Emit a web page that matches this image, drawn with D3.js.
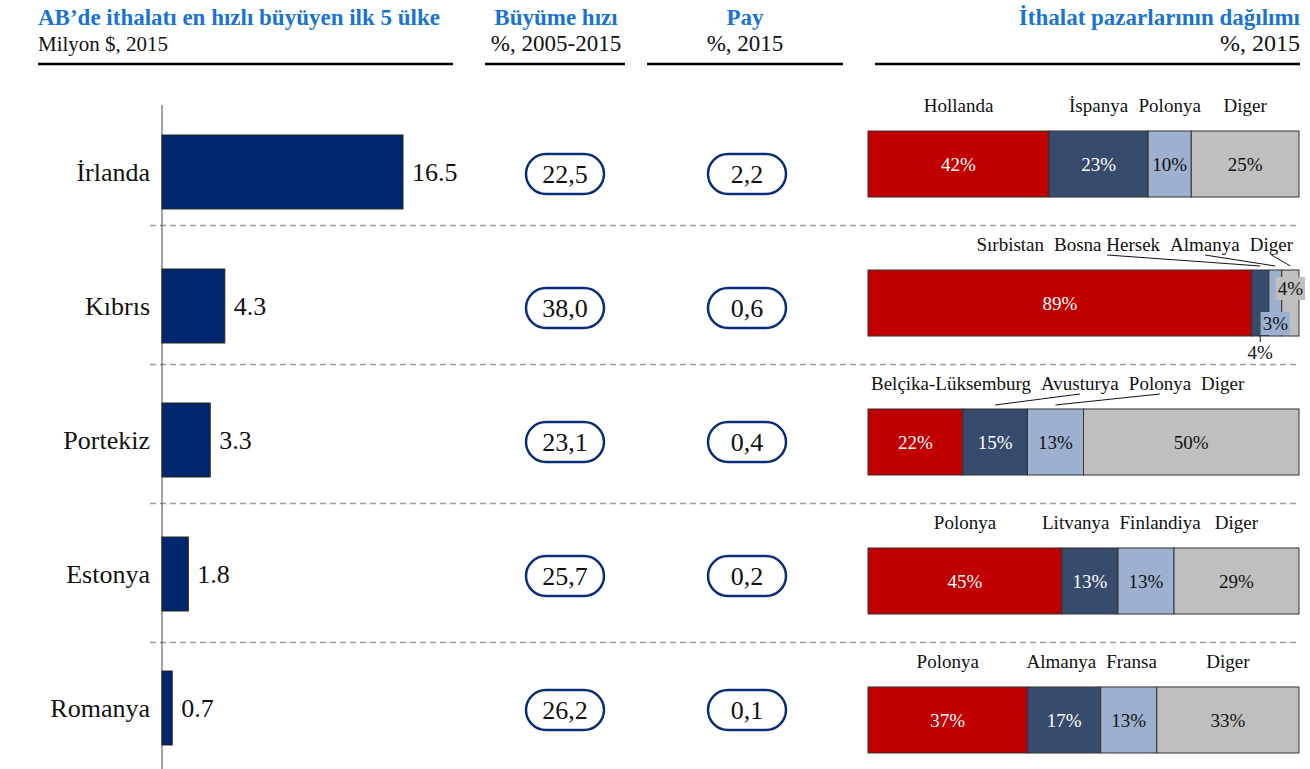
<!DOCTYPE html>
<meta charset="utf-8" />
<html>
<head>
    <style>
        body { margin: 0; background: #fff; }
        text { font-family: "Liberation Serif", "Times New Roman", serif; fill: #111; }
        .head { font-weight: bold; fill: #1a73d1; font-size: 23px; }
        .sub { font-size: 22px; }
        .sep { stroke: #9a9a9a; stroke-width: 1.5; stroke-dasharray: 6,4; }
    </style>
</head>
<body>
    <svg width="1310" height="769"></svg>
    <script src="https://d3js.org/d3.v7.min.js"></script>
    <script>
        // data
        var countries = ["İrlanda", "Kıbrıs", "Portekiz", "Estonya", "Romanya"];
        var imports = [16.5, 4.3, 3.3, 1.8, 0.7];
        var growth = [22.5, 38.0, 23.1, 25.7, 26.2];
        var share = [2.2, 0.6, 0.4, 0.2, 0.1];
        var partnerNames = [
            ["Hollanda", "İspanya", "Polonya", "Diger"],
            ["Sırbistan", "Bosna Hersek", "Almanya", "Diger"],
            ["Belçika-Lüksemburg", "Avusturya", "Polonya", "Diger"],
            ["Polonya", "Litvanya", "Finlandiya", "Diger"],
            ["Polonya", "Almanya", "Fransa", "Diger"]
        ];
        var partnerShares = [
            [42, 23, 10, 25],
            [89, 4, 3, 4],
            [22, 15, 13, 50],
            [45, 13, 13, 29],
            [37, 17, 13, 33]
        ];
        var segColors = ["#c00000", "#374c6c", "#9db0cf", "#bfbfbf"];
        var segText = ["#fff", "#fff", "#111", "#111"];

        var svg = d3.select("svg");
        var comma = function (v) { return d3.format(".1f")(v).replace(".", ","); };

        // headers
        function header(x, anchor, title, sub, subSize, x1, x2) {
            svg.append("text").attr("class", "head").attr("x", x).attr("y", 25)
                .attr("text-anchor", anchor).text(title);
            svg.append("text").attr("class", "sub").attr("x", x).attr("y", 51)
                .attr("text-anchor", anchor).style("font-size", subSize).text(sub);
            svg.append("line").attr("x1", x1).attr("x2", x2).attr("y1", 64).attr("y2", 64)
                .attr("stroke", "#000").attr("stroke-width", 2.5);
        }
        header(38, "start", "AB’de ithalatı en hızlı büyüyen ilk 5 ülke", "Milyon $, 2015", "21px", 38, 453);
        header(556, "middle", "Büyüme hızı", "%, 2005-2015", "23px", 485, 625);
        header(745, "middle", "Pay", "%, 2015", "23px", 647, 843);
        header(1300, "end", "İthalat pazarlarının dağılımı", "%, 2015", "24px", 875, 1300);

        // left bar chart
        var x = d3.scaleLinear().domain([0, 16.5]).range([162, 403]);
        var y = d3.scaleBand().domain(countries).range([135, 745]).paddingInner(0.448);
        var bw = y.bandwidth();

        // right stacked bars
        var xs = d3.scaleLinear().domain([0, 100]).range([868, 1299]);
        var ys = d3.scaleBand().domain(countries).range([131, 753]).paddingInner(0.525);
        var sbw = ys.bandwidth();

        // separators
        countries.forEach(function (c, i) {
            if (i === 0) return;
            var prev = countries[i - 1];
            var yy = (ys(prev) + sbw + ys(c)) / 2 - 8;
            svg.append("line").attr("class", "sep")
                .attr("x1", 150).attr("x2", 1300).attr("y1", yy).attr("y2", yy);
        });

        svg.append("line").attr("x1", x(0)).attr("x2", x(0)).attr("y1", 105).attr("y2", 769)
            .attr("stroke", "#444").attr("stroke-width", 1);

        svg.append("g").selectAll("rect").data(countries).enter().append("rect")
            .attr("x", x(0))
            .attr("y", function (d) { return y(d); })
            .attr("width", function (d, i) { return x(imports[i]) - x(0); })
            .attr("height", bw)
            .attr("fill", "#00266e")
            .attr("stroke", "#222").attr("stroke-width", 1);

        svg.append("g").selectAll("text").data(countries).enter().append("text")
            .attr("x", 150).attr("y", function (d) { return y(d) + bw / 2; })
            .attr("dy", "0.35em").attr("text-anchor", "end")
            .style("font-size", "26px").text(function (d) { return d; });

        svg.append("g").selectAll("text").data(countries).enter().append("text")
            .attr("x", function (d, i) { return x(imports[i]) + 9; })
            .attr("y", function (d) { return y(d) + bw / 2; })
            .attr("dy", "0.35em")
            .style("font-size", "26px").text(function (d, i) { return d3.format(".1f")(imports[i]); });

        // pills
        function pills(cx, vals) {
            var g = svg.append("g").selectAll("g").data(countries).enter().append("g")
                .attr("transform", function (d) { return "translate(" + cx + "," + (y(d) + bw / 2 + 2) + ")"; });
            g.append("rect").attr("x", -39).attr("y", -20).attr("width", 78).attr("height", 40)
                .attr("rx", 20).attr("fill", "#fff").attr("stroke", "#0a2d7a").attr("stroke-width", 2.5);
            g.append("text").attr("text-anchor", "middle").attr("dy", "0.35em")
                .style("font-size", "26px").text(function (d, i) { return comma(vals[i]); });
        }
        pills(565, growth);
        pills(747, share);

        // stacked bars
        countries.forEach(function (c, r) {
            var vals = partnerShares[r];
            var names = partnerNames[r];
            var top = ys(c);
            var cum = 0;
            var segs = vals.map(function (v, i) {
                var s = { i: i, v: v, x0: xs(cum), x1: xs(cum + v) };
                cum += v;
                s.cx = (s.x0 + s.x1) / 2;
                return s;
            });
            var g = svg.append("g");
            g.selectAll("rect").data(segs).enter().append("rect")
                .attr("x", function (d) { return d.x0; })
                .attr("y", top)
                .attr("width", function (d) { return d.x1 - d.x0; })
                .attr("height", sbw)
                .attr("fill", function (d) { return segColors[d.i]; })
                .attr("stroke", "#333").attr("stroke-width", 1);

            // percent labels
            var small = 0;
            var smallPos = ["below", "low", "high"];
            segs.forEach(function (s) {
                var t = g.append("text").attr("text-anchor", "middle").attr("dy", "0.35em")
                    .style("font-size", "19px").text(s.v + "%");
                var w = t.node().getComputedTextLength();
                if (w + 4 <= s.x1 - s.x0) {
                    t.attr("x", s.cx).attr("y", top + sbw / 2).style("fill", segText[s.i]);
                    return;
                }
                var pos = smallPos[small++ % 3];
                t.attr("x", s.cx);
                if (pos === "below") {
                    t.attr("y", top + sbw + 16);
                    g.append("line").attr("x1", s.cx).attr("x2", s.cx)
                        .attr("y1", top + sbw).attr("y2", top + sbw + 6)
                        .attr("stroke", "#111");
                } else {
                    var ty = pos === "low" ? top + sbw / 2 + 20 : top + sbw / 2 - 15;
                    t.attr("y", ty);
                    g.insert("rect", function () { return t.node(); })
                        .attr("x", s.cx - w / 2 - 2).attr("y", ty - 11)
                        .attr("width", w + 4).attr("height", 23)
                        .attr("fill", segColors[s.i]);
                }
            });

            // partner names with simple collision avoidance
            var base = top - 19;
            var labs = segs.map(function (s) {
                var t = g.append("text").attr("text-anchor", "middle").attr("y", base)
                    .style("font-size", "19px").text(names[s.i]);
                return { t: t, w: t.node().getComputedTextLength(), x: s.cx, s: s };
            });
            var gap = 10, lo = xs(0) + 3, hi = xs(100) - 6;
            for (var k = 0; k < 200; k++) {
                for (var j = 0; j < labs.length - 1; j++) {
                    var a = labs[j], b = labs[j + 1];
                    var ov = (a.x + a.w / 2 + gap) - (b.x - b.w / 2);
                    if (ov > 0) { a.x -= ov / 2; b.x += ov / 2; }
                }
                labs.forEach(function (l) {
                    if (l.x - l.w / 2 < lo) l.x = lo + l.w / 2;
                    if (l.x + l.w / 2 > hi) l.x = hi - l.w / 2;
                });
            }
            labs.forEach(function (l) {
                l.t.attr("x", l.x);
                if (l.x < l.s.x0 || l.x > l.s.x1) {
                    g.append("line").attr("x1", l.x).attr("y1", base + 4)
                        .attr("x2", l.s.cx).attr("y2", top - 4)
                        .attr("stroke", "#111").attr("stroke-width", 1);
                }
            });
        });
    </script>
</body>
</html>
